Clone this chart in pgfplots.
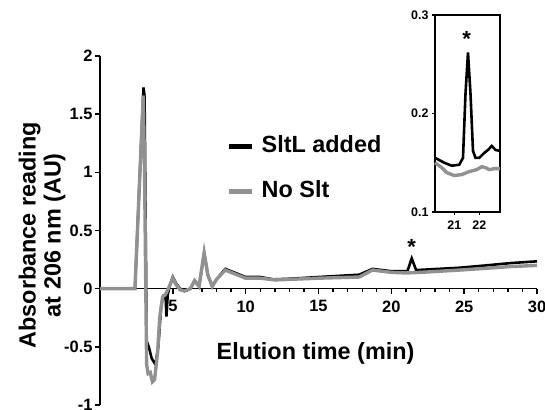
\documentclass[border=0pt]{standalone}
\usepackage{fontspec}
\setmainfont{Liberation Sans}
\usepackage{pgfplots}
\pgfplotsset{compat=1.18}

\definecolor{slt}{RGB}{0,0,0}
\definecolor{noslt}{RGB}{145,145,145}

\begin{document}
\begin{tikzpicture}
% main chromatogram
\begin{axis}[
  name=main,
  at={(0,0)}, anchor=south west,
  scale only axis,
  width=437bp, height=349bp,
  xmin=0, xmax=30, ymin=-1, ymax=2,
  axis x line=middle, axis y line=left,
  axis line style={line width=1.6bp,-},
  xtick={5,10,15,20,25,30},
  xticklabels={5,10,15,20,25,30},
  minor x tick num=4,
  ytick={-1,-0.5,0,0.5,1,1.5,2},
  yticklabels={-1,-0.5,0,0.5,1,1.5,2},
  tick align=outside,
  major tick length=5bp, minor tick length=3.5bp,
  every tick/.style={line width=1.4bp,black},
  tick label style={font=\fontsize{16.5}{19}\selectfont\bfseries},
  xticklabel style={yshift=-3.5bp},
  yticklabel style={xshift=1bp},
  clip=false,
  legend cell align=left,
  legend image code/.code={\draw[#1,line width=5bp] (0bp,0bp) -- (23bp,0bp);},
  legend style={at={(axis cs:8.65,1.33)}, anchor=north west, draw=none, fill=none,
    inner sep=0pt, row sep=20bp,
    font=\fontsize{23.5}{28}\selectfont\bfseries,
    nodes={inner sep=1.5bp, text height=17bp, text depth=5bp},
    /tikz/every odd column/.append style={column sep=6bp}},
]
\addplot[slt, line width=2.6bp] coordinates {
(0,0) (2.4,0) (2.99,1.73) (3.06,1.65) (3.2,-0.45) (3.35,-0.5) (3.55,-0.6)
(3.8,-0.65) (4.0,-0.5) (4.2,-0.15) (4.35,-0.06) (4.5,-0.05) (4.56,-0.24)
(4.65,-0.05) (4.8,0.03) (5.0,0.1) (5.2,0.05) (5.5,0.0) (5.8,-0.02) (6.2,0.0)
(6.5,0.07) (6.8,0.02) (7.15,0.3) (7.4,0.12) (7.7,0.02) (8.0,0.08) (8.6,0.17)
(9.2,0.14) (10.0,0.1) (11.0,0.1) (11.9,0.08) (13,0.085) (15,0.1) (17.8,0.12)
(18.7,0.17) (20.0,0.15) (21.1,0.15) (21.4,0.26) (21.7,0.16) (22.5,0.165)
(24.7,0.18) (26.5,0.2) (28.2,0.22) (30,0.235)
};
\addlegendentry{SltL added}
\addplot[noslt, line width=3.4bp] coordinates {
(0,0) (2.4,0) (2.97,1.66) (3.05,1.1) (3.2,-0.65) (3.3,-0.73) (3.45,-0.72)
(3.6,-0.8) (3.75,-0.78) (3.95,-0.55) (4.1,-0.25) (4.3,-0.07) (4.5,-0.05)
(4.8,0.03) (5.0,0.09) (5.2,0.04) (5.5,-0.01) (5.8,-0.02) (6.2,0.0) (6.5,0.07)
(6.8,0.02) (7.15,0.31) (7.4,0.12) (7.7,0.02) (8.0,0.08) (8.6,0.16) (9.2,0.13)
(10,0.09) (11,0.09) (12,0.075) (13,0.08) (15,0.09) (17.8,0.1) (18.7,0.16)
(20,0.14) (21,0.135) (22,0.14) (24.7,0.16) (26.5,0.175) (28.2,0.19) (30,0.2)
};
\addlegendentry{No Slt}
\node[font=\fontsize{23.5}{28}\selectfont\bfseries, anchor=base] at (axis cs:14.8,-0.61) {Elution time (min)};
\path (axis cs:0,0.46) ++(-58bp,0bp) node[rotate=90, align=center,
  font=\fontsize{23.5}{25}\selectfont\bfseries] {Absorbance reading\\at 206 nm (AU)};
\node[font=\fontsize{22}{24}\selectfont\bfseries, anchor=base] at (axis cs:21.4,0.29) {*};
\end{axis}

% inset
\begin{axis}[
  at={(335bp,193bp)}, anchor=south west,
  scale only axis,
  width=65bp, height=197bp,
  xmin=20.23, xmax=22.83, ymin=0.1, ymax=0.3,
  xtick={21,22}, xticklabels={21,22},
  ytick={0.1,0.2,0.3}, yticklabels={0.1,0.2,0.3},
  xtick pos=left, ytick pos=left,
  tick align=outside,
  major tick length=3bp,
  every tick/.style={line width=1.2bp,black},
  axis line style={line width=1.4bp},
  tick label style={font=\fontsize{12.5}{14}\selectfont\bfseries},
  xticklabel style={yshift=-2bp},
  clip=false,
]
\addplot[slt, line width=2.6bp] coordinates {
(20.23,0.155) (20.6,0.15) (20.9,0.147) (21.2,0.148) (21.35,0.155) (21.45,0.22)
(21.55,0.262) (21.65,0.22) (21.75,0.162) (21.85,0.155) (22.0,0.155) (22.2,0.16)
(22.35,0.163) (22.5,0.167) (22.65,0.163) (22.83,0.162)
};
\addplot[noslt, line width=3.4bp] coordinates {
(20.23,0.15) (20.5,0.145) (20.7,0.14) (21.0,0.137) (21.3,0.138) (21.6,0.141)
(21.9,0.143) (22.1,0.146) (22.25,0.145) (22.4,0.143) (22.6,0.144) (22.83,0.144)
};
\node[font=\fontsize{22}{24}\selectfont\bfseries, anchor=base] at (axis cs:21.5,0.268) {*};
\end{axis}
\pgfresetboundingbox
\path[use as bounding box] (-100bp,-5bp) rectangle (445bp,405bp);
\end{tikzpicture}
\end{document}
